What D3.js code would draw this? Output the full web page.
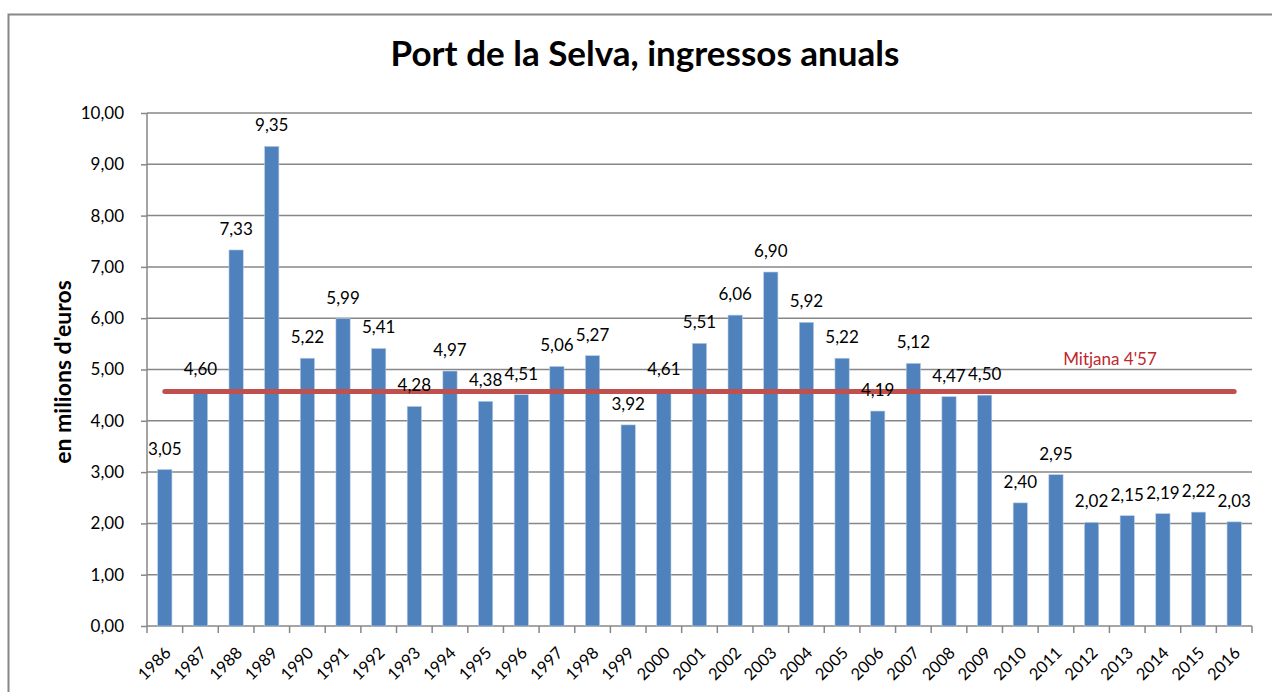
<!DOCTYPE html>
<html>
<head>
<meta charset="utf-8">
<script src="https://cdn.jsdelivr.net/npm/d3@7"></script>
<style>
  body { margin: 0; background: #fff; }
  text { font-family: "Lato", "Open Sans", sans-serif; }
</style>
</head>
<body>
<div id="chart"></div>
<script>
// --- data ---
const years = ["1986","1987","1988","1989","1990","1991","1992","1993","1994","1995","1996",
  "1997","1998","1999","2000","2001","2002","2003","2004","2005","2006","2007","2008","2009",
  "2010","2011","2012","2013","2014","2015","2016"];
const income = [3.05,4.60,7.33,9.35,5.22,5.99,5.41,4.28,4.97,4.38,4.51,
  5.06,5.27,3.92,4.61,5.51,6.06,6.90,5.92,5.22,4.19,5.12,4.47,4.50,
  2.40,2.95,2.02,2.15,2.19,2.22,2.03];
const yTicks = [0,1,2,3,4,5,6,7,8,9,10];
const average = 4.57;
const averageLabel = "Mitjana 4'57";
const title = "Port de la Selva, ingressos anuals";
const yTitle = "en milions d'euros";

const data = years.map((y, i) => ({ year: y, value: income[i] }));
const fmt = v => v.toFixed(2).replace(".", ",");

// --- sizes ---
const W = 1272, H = 692;
const plotL = 147, plotR = 1252, plotT = 113, plotB = 626;

const svg = d3.select("#chart").append("svg")
  .attr("width", W).attr("height", H);

// outer chart border (only top/left visible in the shot)
svg.append("rect")
  .attr("x", 8.5).attr("y", 14.5)
  .attr("width", W + 20).attr("height", H + 20)
  .attr("fill", "none").attr("stroke", "#878787").attr("stroke-width", 2);

// --- scales ---
const x = d3.scaleBand()
  .domain(years)
  .range([plotL, plotR])
  .paddingInner(0.6)
  .paddingOuter(0.3);

const y = d3.scaleLinear().domain([0, 10]).range([plotB, plotT]);

// --- gridlines + y axis ---
const yAxis = svg.append("g")
  .attr("transform", `translate(${plotL},0)`)
  .call(d3.axisLeft(y).tickValues(yTicks).tickFormat(fmt).tickSize(6).tickPadding(17));
yAxis.select(".domain").remove();
yAxis.selectAll(".tick line").attr("stroke", "#878787").attr("stroke-width", 1.5);
yAxis.selectAll(".tick text")
  .attr("fill", "#000").style("font-size", "17px");

svg.append("g").selectAll("line")
  .data(yTicks)
  .join("line")
  .attr("x1", plotL).attr("x2", plotR)
  .attr("y1", d => y(d)).attr("y2", d => y(d))
  .attr("stroke", "#878787").attr("stroke-width", 1.5);

// left axis line
svg.append("line")
  .attr("x1", plotL).attr("x2", plotL)
  .attr("y1", plotT).attr("y2", plotB)
  .attr("stroke", "#878787").attr("stroke-width", 1.5);

// x tick marks at category boundaries
const step = x.step();
svg.append("g").selectAll("line")
  .data(d3.range(years.length + 1))
  .join("line")
  .attr("x1", i => plotL + i * step).attr("x2", i => plotL + i * step)
  .attr("y1", plotB).attr("y2", plotB + 7)
  .attr("stroke", "#878787").attr("stroke-width", 1.5);

// --- bars ---
svg.append("g").selectAll("rect")
  .data(data)
  .join("rect")
  .attr("x", d => x(d.year))
  .attr("y", d => y(d.value))
  .attr("width", x.bandwidth())
  .attr("height", d => plotB - y(d.value))
  .attr("fill", "#4F81BD")
  .attr("stroke", "#B9CDE5").attr("stroke-width", 0.6);

// --- average line ---
const firstC = x(years[0]) + x.bandwidth() / 2;
const lastC = x(years[years.length - 1]) + x.bandwidth() / 2;
svg.append("line")
  .attr("x1", firstC).attr("x2", lastC)
  .attr("y1", y(average)).attr("y2", y(average))
  .attr("stroke", "#C0504D").attr("stroke-width", 5)
  .attr("stroke-linecap", "round");

svg.append("text")
  .attr("x", 1110).attr("y", y(average) - 27)
  .attr("text-anchor", "middle")
  .attr("fill", "#C0272D")
  .style("font-size", "17px")
  .text(averageLabel);

// --- value labels ---
svg.append("g").selectAll("text")
  .data(data)
  .join("text")
  .attr("x", d => x(d.year) + x.bandwidth() / 2)
  .attr("y", d => y(d.value) - 15)
  .attr("text-anchor", "middle")
  .style("font-size", "17px")
  .text(d => fmt(d.value));

// --- x labels ---
svg.append("g").selectAll("text")
  .data(data)
  .join("text")
  .attr("transform", d => `translate(${x(d.year) + x.bandwidth() / 2 + 3},${plotB + 24}) rotate(-45)`)
  .attr("text-anchor", "end")
  .attr("dy", "0.35em")
  .style("font-size", "16.5px")
  .text(d => d.year);

// --- titles ---
svg.append("text")
  .attr("x", 645).attr("y", 66)
  .attr("text-anchor", "middle")
  .style("font-size", "35px").style("font-weight", "bold")
  .text(title);

svg.append("text")
  .attr("transform", `translate(71,372) rotate(-90)`)
  .attr("text-anchor", "middle")
  .style("font-size", "23px").style("font-weight", "bold")
  .text(yTitle);
</script>
</body>
</html>
